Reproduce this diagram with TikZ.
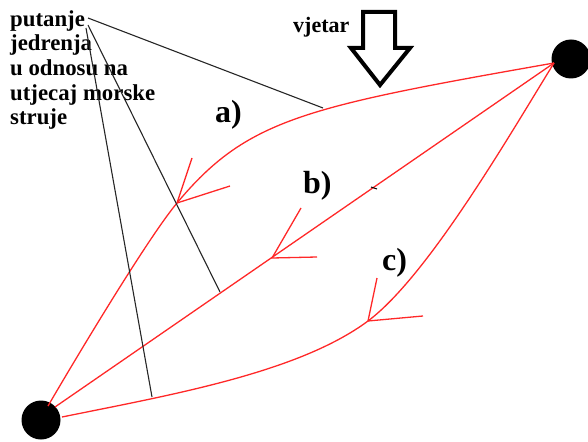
\documentclass[tikz,border=0pt]{standalone}
\usepackage{fontspec}
\setmainfont{Liberation Serif}
\begin{document}
\begin{tikzpicture}[x=1pt,y=-1pt,
  rd/.style={draw={rgb,255:red,255;green,40;blue,40},line width=1.3pt},
  pointer/.style={draw=black!85,line width=1.1pt},
  dot/.style={circle,fill=black,inner sep=0pt,minimum size=39pt},
  lbl/.style={font=\fontsize{32}{34}\selectfont\bfseries,inner sep=0pt,anchor=base west},
  txt/.style={font=\fontsize{22.8}{24.7}\selectfont\bfseries,inner sep=0pt,align=left}]
\useasboundingbox (0,0) rectangle (588,441);
% dots
\node[dot] (L) at (41,420) {};
\node[dot] (R) at (571,59) {};
% curve endpoints
\coordinate (aS) at (48,406);
\coordinate (bS) at (55,407);
\coordinate (cS) at (62,417);
\coordinate (E) at (554,63);
% arrow tips and barbs
\coordinate (ta) at (177,203);
\coordinate (ta1) at (192,158);
\coordinate (ta2) at (230,186);
\coordinate (tb) at (272,258);
\coordinate (tb1) at (301,208);
\coordinate (tb2) at (317,257);
\coordinate (tc) at (368,321);
\coordinate (tc1) at (377,278);
\coordinate (tc2) at (423,316);
% curves
\draw[rd] (aS) .. controls (73,363) and (147,239) .. (ta)
               .. controls (247,119) and (304,107) .. (E);
\draw[rd] (bS) -- (E);
\draw[rd] (cS) .. controls (170,395) and (298,373) .. (tc)
               .. controls (428,276) and (509,136) .. (E);
\draw[rd] (ta1) -- (ta) -- (ta2);
\draw[rd] (tb1) -- (tb) -- (tb2);
\draw[rd] (tc1) -- (tc) -- (tc2);
% text
\node[txt,anchor=north west] (T) at (10,10) {putanje\\jedrenja\\u odnosu na\\utjecaj morske\\struje};
\coordinate (p1) at (88,18);
\coordinate (p2) at (88,25);
\coordinate (p3) at (86,28);
\coordinate (e1) at (323,108);
\coordinate (e2) at (220,292);
\coordinate (e3) at (152,397);
\draw[pointer] (p1) -- (e1);
\draw[pointer] (p2) -- (e2);
\draw[pointer] (p3) -- (e3);
% tiny dash
\coordinate (d1) at (371,187);
\coordinate (d2) at (377,189);
\draw[black,line width=1pt] (d1) -- (d2);
% labels
\node[lbl] (la) at (215,122) {a)};
\node[lbl] (lb) at (303,193) {b)};
\node[lbl] (lc) at (382,270) {c)};
% wind
\node[font=\fontsize{22}{24}\selectfont\bfseries,inner sep=0pt,anchor=base west] (V) at (293,33) {vjetar};
\draw[line width=4pt,miter limit=10] (363,12) -- (395,12) -- (395,48) -- (410,48) -- (380,85) -- (351,48) -- (363,48) -- cycle;
\end{tikzpicture}
\end{document}
